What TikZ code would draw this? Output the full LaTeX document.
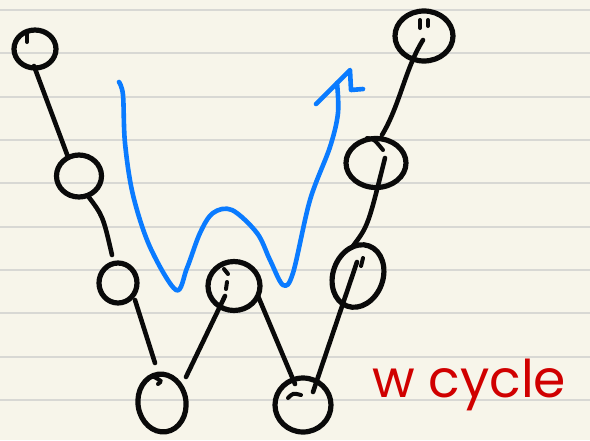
\documentclass[tikz,border=0pt]{standalone}
\usepackage{fontspec}
\newfontfamily\handfont{Poppins}
\usetikzlibrary{shapes.geometric,calc}
\definecolor{paper}{HTML}{F7F5EA}
\definecolor{rule}{HTML}{D8D8D4}
\definecolor{pen}{HTML}{0A0A0A}
\definecolor{bluepen}{HTML}{0A7BFF}
\definecolor{redpen}{HTML}{D00000}
\tikzset{
  ring/.style={draw=pen, ellipse, line width=5.2pt, inner sep=0pt},
  link/.style={draw=pen, line width=4.6pt, line cap=round},
  tick/.style={draw=pen, line width=4pt, line cap=round},
  flow/.style={draw=bluepen, line width=4.6pt, line cap=round, line join=round},
}
\begin{document}
\begin{tikzpicture}[x=1pt,y=-1pt]
  % paper and ruling
  \fill[paper] (0,0) rectangle (590,440);
  \useasboundingbox (0,0) rectangle (590,440);
  \foreach \k in {0,...,9}
    \draw[rule, line width=2pt] (0,{10+43.33*\k}) -- (590,{10+43.33*\k});

  % vertices
  \node[ring, minimum width=42pt, minimum height=38pt] (c1) at (35,49) {};
  \node[ring, minimum width=45pt, minimum height=42pt] (c2) at (79,176) {};
  \node[ring, minimum width=38pt, minimum height=40pt] (c3) at (118,283) {};
  \node[ring, minimum width=48pt, minimum height=58pt, rotate=8] (c4) at (162,403) {};
  \node[ring, minimum width=52pt, minimum height=49pt] (c5) at (234,286) {};
  \node[ring, minimum width=56pt, minimum height=54pt] (c6) at (303,405) {};
  \node[ring, minimum width=50pt, minimum height=64pt, rotate=-20] (c7) at (358,276) {};
  \node[ring, minimum width=60pt, minimum height=49pt] (c8) at (376,163) {};
  \node[ring, minimum width=58pt, minimum height=50pt] (c9) at (424,36) {};

  % pen-start hooks inside the rings
  \draw[tick] ($(c1)+(-8,-16)$) -- ($(c1)+(-8,-7)$);
  \draw[tick] ($(c4)+(-8,-26)$) .. controls ($(c4)+(0,-22)$) .. ($(c4)+(-4,-19)$);
  \draw[tick] ($(c5)+(-10,-17)$) -- ($(c5)+(-6,-12)$);
  \draw[tick] ($(c5)+(-7,-4)$) -- ($(c5)+(-8,3)$);
  \draw[tick] ($(c6)+(-2,-10)$) .. controls ($(c6)+(-10,-12)$) .. ($(c6)+(-15,-7)$);
  \draw[tick] ($(c7)+(5,-18)$) -- ($(c7)+(3,-10)$);
  \draw[tick] ($(c8)+(-9,-25)$) .. controls ($(c8)+(-2,-24)$) .. ($(c8)+(7,-13)$);
  \draw[tick] ($(c9)+(-4,-16)$) -- ($(c9)+(-4,-8)$);
  \draw[tick] ($(c9)+(4,-16)$) -- ($(c9)+(4,-10)$);

  % edges of the chain
  \draw[link] ($(c1)+(-1,17)$) -- ($(c2)+(-11,-19)$);
  \draw[link] ($(c2)+(9,20)$) .. controls ($(c2)+(24,40)$) .. ($(c3)+(-6,-28)$);
  \draw[link] ($(c3)+(17,17)$) -- ($(c4)+(-7,-40)$);
  \draw[link] ($(c4)+(24,-26)$) -- ($(c5)+(-9,10)$);
  \draw[link] ($(c5)+(24,10)$) -- ($(c6)+(-8,-21)$);
  \draw[link] ($(c6)+(10,-13)$) -- ($(c7)+(-1,-14)$);
  \draw[link] ($(c7)+(-5,-30)$) .. controls ($(c7)+(10,-50)$) .. ($(c8)+(9,-5)$);
  \draw[link] ($(c8)+(6,-28)$) .. controls ($(c8)+(24,-58)$) and ($(c9)+(-19,33)$) .. ($(c9)+(-1,4)$);

  % the W-shaped traversal
  \draw[flow] plot[smooth, tension=0.55] coordinates {
    (119,82) (123,95) (125,143) (133,195) (150,247) (176,290)
    (187,268) (200,233) (213,213) (232,210) (257,233) (270,260)
    (283,285) (293,273) (310,200) (330,147) (338,113) (337,83)};
  \draw[flow] (316,104) -- (350,70) -- (351,90) -- (363,89);

  % caption
  \node[text=redpen, font=\handfont\fontsize{52}{52}\selectfont, anchor=base west, inner sep=0pt] (lbl) at (372,397) {w cycle};
\end{tikzpicture}
\end{document}
